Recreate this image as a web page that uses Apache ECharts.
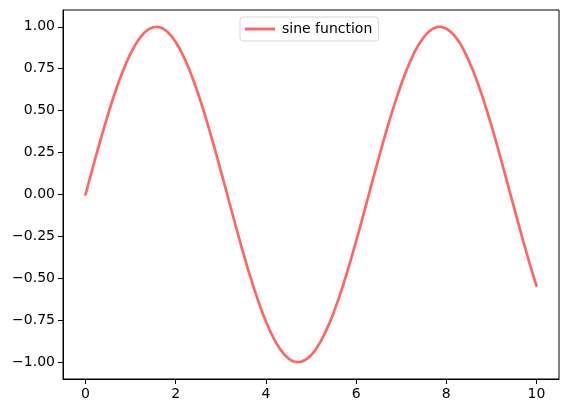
<!DOCTYPE html>
<html><head><meta charset="utf-8">
<script src="https://cdn.jsdelivr.net/npm/echarts@6/dist/echarts.min.js"></script>
<style>html,body{margin:0;padding:0;background:#fff}#c{width:568px;height:413px}</style>
</head><body><div id="c"></div>
<script>
const xValues = [0.0,0.1,0.2,0.3,0.4,0.5,0.6,0.7,0.8,0.9,1.0,1.1,1.2,1.3,1.4,1.5,1.6,1.7,1.8,1.9,2.0,2.1,2.2,2.3,2.4,2.5,2.6,2.7,2.8,2.9,3.0,3.1,3.2,3.3,3.4,3.5,3.6,3.7,3.8,3.9,4.0,4.1,4.2,4.3,4.4,4.5,4.6,4.7,4.8,4.9,5.0,5.1,5.2,5.3,5.4,5.5,5.6,5.7,5.8,5.9,6.0,6.1,6.2,6.3,6.4,6.5,6.6,6.7,6.8,6.9,7.0,7.1,7.2,7.3,7.4,7.5,7.6,7.7,7.8,7.9,8.0,8.1,8.2,8.3,8.4,8.5,8.6,8.7,8.8,8.9,9.0,9.1,9.2,9.3,9.4,9.5,9.6,9.7,9.8,9.9,10.0];
const yValues = [0.000,0.100,0.199,0.296,0.389,0.479,0.565,0.644,0.717,0.783,
  0.841,0.891,0.932,0.964,0.985,0.997,1.000,0.992,0.974,0.946,
  0.909,0.863,0.808,0.746,0.675,0.598,0.516,0.427,0.335,0.239,
  0.141,0.042,-0.058,-0.158,-0.256,-0.351,-0.443,-0.530,-0.612,-0.688,
  -0.757,-0.818,-0.872,-0.916,-0.952,-0.978,-0.994,-1.000,-0.996,-0.982,
  -0.959,-0.926,-0.883,-0.832,-0.773,-0.706,-0.631,-0.551,-0.465,-0.374,
  -0.279,-0.182,-0.083,0.017,0.117,0.215,0.312,0.405,0.494,0.578,
  0.657,0.729,0.794,0.851,0.899,0.938,0.968,0.988,0.999,0.999,
  0.989,0.970,0.941,0.904,0.855,0.798,0.734,0.663,0.585,0.501,
  0.412,0.319,0.223,0.124,0.025,-0.075,-0.174,-0.272,-0.366,-0.458,
  -0.544];
const xTicks = [0,2,4,6,8,10];
const yTicks = [-1.00,-0.75,-0.50,-0.25,0.00,0.25,0.50,0.75,1.00];
const seriesName = 'sine function';

const chart = echarts.init(document.getElementById('c'), null, {renderer:'canvas'});
const font = 'DejaVu Sans';
chart.setOption({
  animation:false,
  grid:{left:63,right:9,top:10,bottom:34,show:true,borderColor:'#000',borderWidth:1,backgroundColor:'transparent'},
  legend:{
    data:[{name:seriesName,icon:'rect'}], top:17, left:240,
    itemWidth:30, itemHeight:3, itemGap:10,
    borderColor:'#d6d6d6', borderWidth:1, borderRadius:3, padding:[5,6,5,5],
    textStyle:{fontFamily:font,fontSize:14,color:'#000',padding:[0,0,0,2]}
  },
  xAxis:{
    type:'value', min:-0.5, max:10.5,
    splitLine:{show:false},
    axisLine:{show:true,onZero:false,lineStyle:{color:'#000',width:1}},
    axisTick:{show:true,length:5,lineStyle:{color:'#000'},customValues:xTicks},
    axisLabel:{customValues:xTicks,fontFamily:font,fontSize:14,color:'#000',margin:8,
      formatter:v=>String(v)}
  },
  yAxis:{
    type:'value', min:-1.1, max:1.1,
    splitLine:{show:false},
    axisLine:{show:true,onZero:false,lineStyle:{color:'#000',width:1}},
    axisTick:{show:true,length:5,lineStyle:{color:'#000'},customValues:yTicks},
    axisLabel:{customValues:yTicks,fontFamily:font,fontSize:14,color:'#000',margin:8,
      formatter:v=>(v<0?'\u2212':'')+Math.abs(v).toFixed(2)}
  },
  series:[{
    name:seriesName, type:'line', symbol:'none', smooth:false,
    data:xValues.map((x,i)=>[x,yValues[i]]),
    lineStyle:{color:'#ff6666',width:2.7,join:'round',cap:'round'},
    itemStyle:{color:'#ff6666'}
  }]
});
</script></body></html>
